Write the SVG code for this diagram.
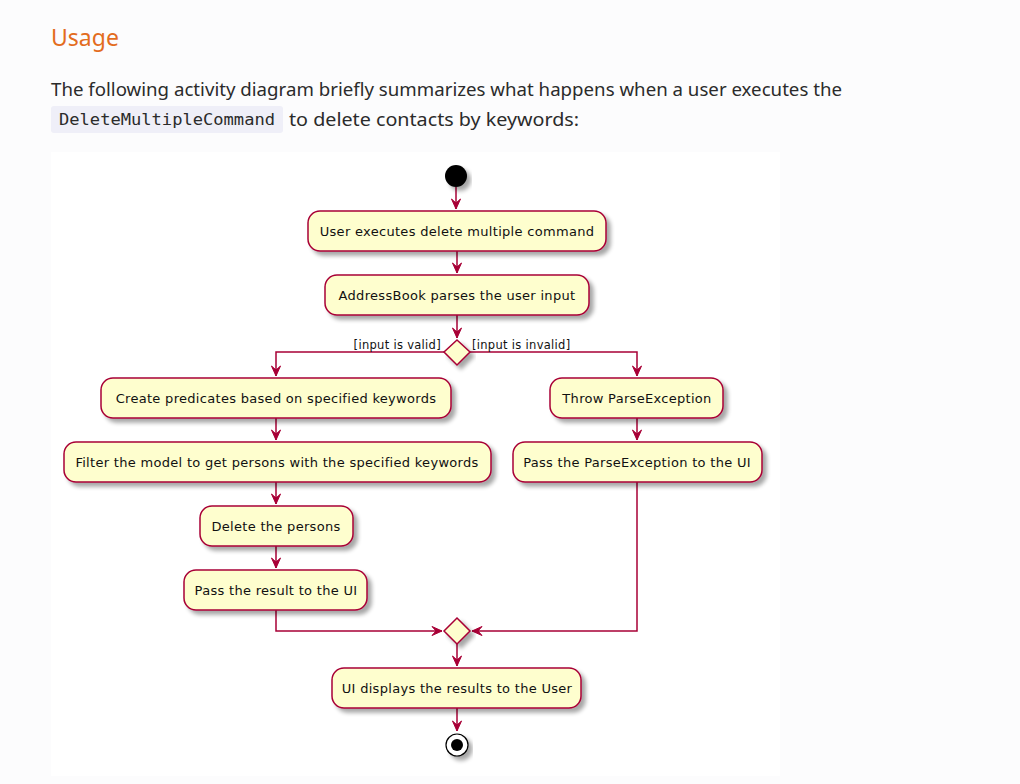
<svg xmlns="http://www.w3.org/2000/svg" width="1020" height="784" viewBox="0 0 1020 784">
<defs>
<filter id="sh" x="-10%" y="-20%" width="130%" height="160%">
<feGaussianBlur in="SourceAlpha" stdDeviation="2"/>
<feOffset dx="4" dy="4" result="b"/>
<feComponentTransfer><feFuncA type="linear" slope="0.35"/></feComponentTransfer>
<feMerge><feMergeNode/><feMergeNode in="SourceGraphic"/></feMerge>
</filter>
<style>
.n rect{fill:#FEFECE;stroke:#A80036;stroke-width:1.5;filter:url(#sh)}
.n text{font-family:"DejaVu Sans",sans-serif;font-size:13px;letter-spacing:0.3px;fill:#111;text-anchor:middle}
.d polygon{fill:#FEFECE;stroke:#A80036;stroke-width:1.5;filter:url(#sh)}
.c path{fill:none;stroke:#A80036;stroke-width:1.5}
.ah{fill:#A80036;stroke:#A80036;stroke-width:1}
.lbl{font-family:"DejaVu Sans",sans-serif;font-size:11.5px;letter-spacing:0.3px;fill:#111}
</style>
</defs>
<rect width="1020" height="784" fill="#fcfcfd"/>
<text x="51" y="46" font-family="'Noto Sans',sans-serif" font-size="23" fill="#e36c1e">Usage</text>
<text x="51" y="96" font-family="'Noto Sans',sans-serif" font-size="17.5" fill="#2b2b2b" textLength="791" lengthAdjust="spacingAndGlyphs">The following activity diagram briefly summarizes what happens when a user executes the</text>
<rect x="51" y="106" width="232" height="27" rx="3" fill="#efeff8"/>
<text x="59" y="125" font-family="'DejaVu Sans Mono',monospace" font-size="15.5" fill="#2b2b2b" textLength="216" lengthAdjust="spacingAndGlyphs">DeleteMultipleCommand</text>
<text x="289" y="126" font-family="'Noto Sans',sans-serif" font-size="17.5" fill="#2b2b2b" textLength="290" lengthAdjust="spacingAndGlyphs">to delete contacts by keywords:</text>
<rect x="51" y="152" width="729" height="624" fill="#ffffff"/>

<g id="connectors" class="c">
<path d="M456,187 V209"/>
<path d="M457,251 V273"/>
<path d="M457,315 V338"/>
<path d="M444,352 H276 V376"/>
<path d="M470,352 H637 V376"/>
<path d="M276,418 V440"/>
<path d="M276,482 V504"/>
<path d="M276,546 V568"/>
<path d="M276,610 V631 H442"/>
<path d="M637,418 V440"/>
<path d="M637,482 V631 H472"/>
<path d="M457,644 V666"/>
<path d="M457,708 V731"/>
<polygon class="ah" points="451.5,199 456,209 460.5,199 456,203"/>
<polygon class="ah" points="452.5,263 457,273 461.5,263 457,267"/>
<polygon class="ah" points="452.5,328 457,338 461.5,328 457,332"/>
<polygon class="ah" points="271.5,366 276,376 280.5,366 276,370"/>
<polygon class="ah" points="632.5,366 637,376 641.5,366 637,370"/>
<polygon class="ah" points="271.5,430 276,440 280.5,430 276,434"/>
<polygon class="ah" points="271.5,494 276,504 280.5,494 276,498"/>
<polygon class="ah" points="271.5,558 276,568 280.5,558 276,562"/>
<polygon class="ah" points="632.5,430 637,440 641.5,430 637,434"/>
<polygon class="ah" points="432,626.5 442,631 432,635.5 436,631"/>
<polygon class="ah" points="482,626.5 472,631 482,635.5 478,631"/>
<polygon class="ah" points="452.5,656 457,666 461.5,656 457,660"/>
<polygon class="ah" points="452.5,721 457,731 461.5,721 457,725"/>
<text class="lbl" x="441" y="349" text-anchor="end">[input is valid]</text>
<text class="lbl" x="472" y="349">[input is invalid]</text>
</g>

<g id="start"><circle cx="456" cy="176" r="11" fill="#000" filter="url(#sh)"/></g>
<g id="n1" class="n"><rect x="308" y="211" width="298" height="40" rx="12"/><text x="457" y="236">User executes delete multiple command</text></g>
<g id="n2" class="n"><rect x="325" y="275" width="264" height="40" rx="12"/><text x="457" y="300">AddressBook parses the user input</text></g>
<g id="dec" class="d"><polygon points="457,340 470,352 457,365 444,352"/></g>
<g id="n3" class="n"><rect x="101" y="378" width="350" height="40" rx="12"/><text x="276" y="403">Create predicates based on specified keywords</text></g>
<g id="n4" class="n"><rect x="64" y="442" width="427" height="40" rx="12"/><text x="277" y="467">Filter the model to get persons with the specified keywords</text></g>
<g id="n5" class="n"><rect x="200" y="506" width="153" height="40" rx="12"/><text x="276" y="531">Delete the persons</text></g>
<g id="n6" class="n"><rect x="184" y="570" width="183" height="40" rx="12"/><text x="276" y="595">Pass the result to the UI</text></g>
<g id="n7" class="n"><rect x="550" y="378" width="173" height="40" rx="12"/><text x="637" y="403">Throw ParseException</text></g>
<g id="n8" class="n"><rect x="513" y="442" width="249" height="40" rx="12"/><text x="637" y="467">Pass the ParseException to the UI</text></g>
<g id="merge" class="d"><polygon points="457,618 470,631 457,644 444,631"/></g>
<g id="n9" class="n"><rect x="332" y="668" width="249" height="40" rx="12"/><text x="457" y="693">UI displays the results to the User</text></g>
<g id="end"><circle cx="457" cy="745" r="11" fill="#fff" stroke="#000" stroke-width="1.2" filter="url(#sh)"/><circle cx="457" cy="745" r="6" fill="#000"/></g>
</svg>
